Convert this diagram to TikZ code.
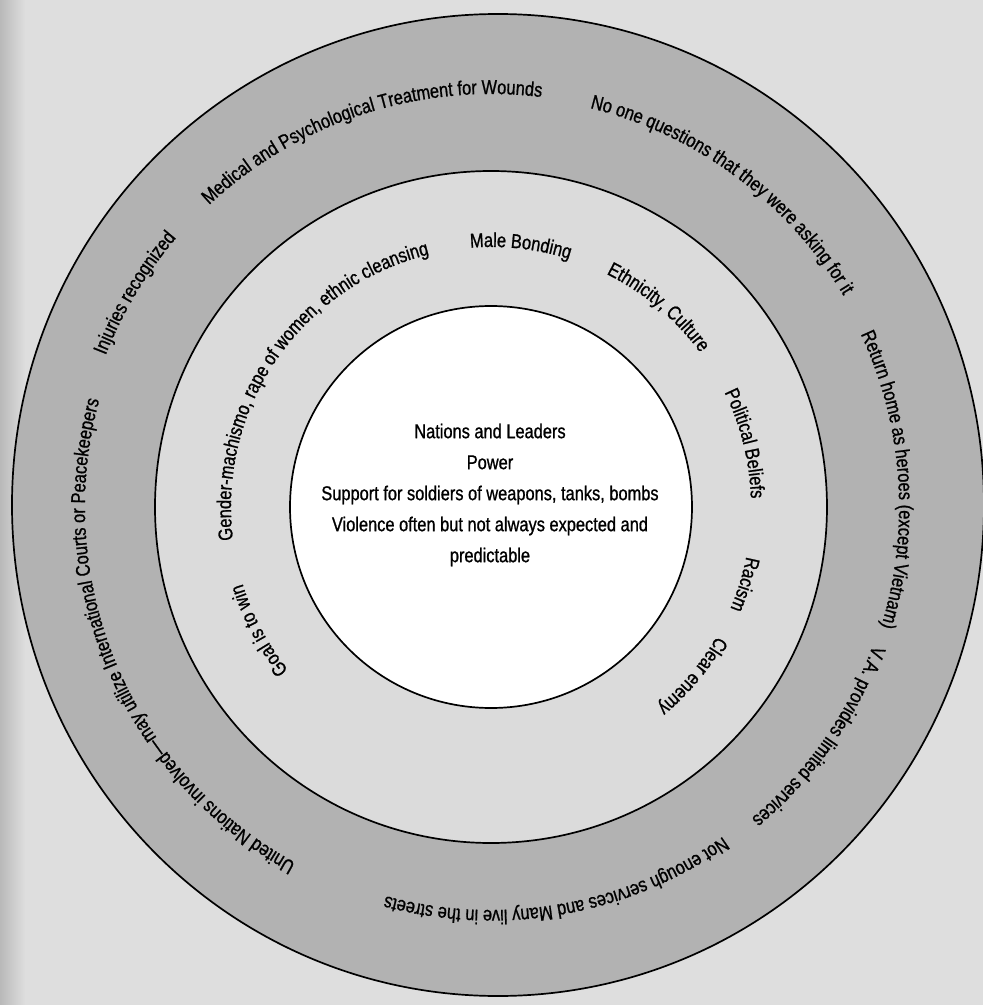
\documentclass[tikz,border=0pt]{standalone}
\usepackage{fontspec}
\newfontfamily\condfont{Liberation Sans}[FakeStretch=0.82, FakeBold=0.9]
\newcommand{\ringfont}{\condfont\fontsize{20}{31}\selectfont}
\usetikzlibrary{calc, positioning}
\usetikzlibrary{decorations.text}

% radius, middle angle, text (runs clockwise)
\newcommand{\ringlabel}[3]{%
  \path[decorate, decoration={text along path, text align=center,
      text={|\ringfont|#3}}]
    ({#2+80}:#1) arc[start angle={#2+80}, end angle={#2-80}, radius=#1];
}

\begin{document}
\begin{tikzpicture}[x=1pt,y=1pt]
\definecolor{paper}{gray}{0.87}
\definecolor{ringdark}{gray}{0.70}
\definecolor{ringlight}{gray}{0.86}
\def\rmid{336}
\def\rin{201}
\def\rtxtout{408}
\def\rtxtmid{260}

\coordinate (O) at (0,0);
\coordinate (Oout) at (7,2);

% page
\fill[paper] (-491,-498) rectangle (492,507);
\shade[left color=gray!55, right color=paper] (-491,-498) rectangle (-466,507);
\useasboundingbox (-491,-498) rectangle (492,507);

\filldraw[fill=ringdark, draw=black, line width=1.7pt]
    (Oout) ellipse[x radius=486, y radius=491];
\filldraw[fill=ringlight, draw=black, line width=1.7pt]
    (O) circle[radius=\rmid];
\filldraw[fill=white, draw=black, line width=1.7pt]
    (O) circle[radius=\rin];

% outer ring
\ringlabel{414}{149}{Injuries recognized}
\ringlabel{413}{108}{Medical and Psychological Treatment for Wounds}
\ringlabel{411}{53.5}{No one questions that they were asking for it}
\ringlabel{\rtxtout}{4}{Return home as heroes (except Vietnam)}
\ringlabel{406}{-35}{V.A. provides limited services}
\ringlabel{403}{-80}{Not enough services and Many live in the streets}
\ringlabel{406}{203}{United Nations involved—may utilize International Courts or Peacekeepers}

% middle ring
\ringlabel{\rtxtmid}{145.5}{Gender-machismo, rape of women, ethnic cleansing}
\ringlabel{\rtxtmid}{83.5}{Male Bonding}
\ringlabel{\rtxtmid}{50}{Ethnicity, Culture}
\ringlabel{\rtxtmid}{14}{Political Beliefs}
\ringlabel{\rtxtmid}{-17}{Racism}
\ringlabel{\rtxtmid}{-40}{Clear enemy}
\ringlabel{\rtxtmid}{208}{Goal is to win}

\node[font=\ringfont, align=center] (core) at (-1,12)
    {Nations and Leaders\\Power\\Support for soldiers of weapons, tanks, bombs\\
     Violence often but not always expected and\\predictable};
\end{tikzpicture}
\end{document}
